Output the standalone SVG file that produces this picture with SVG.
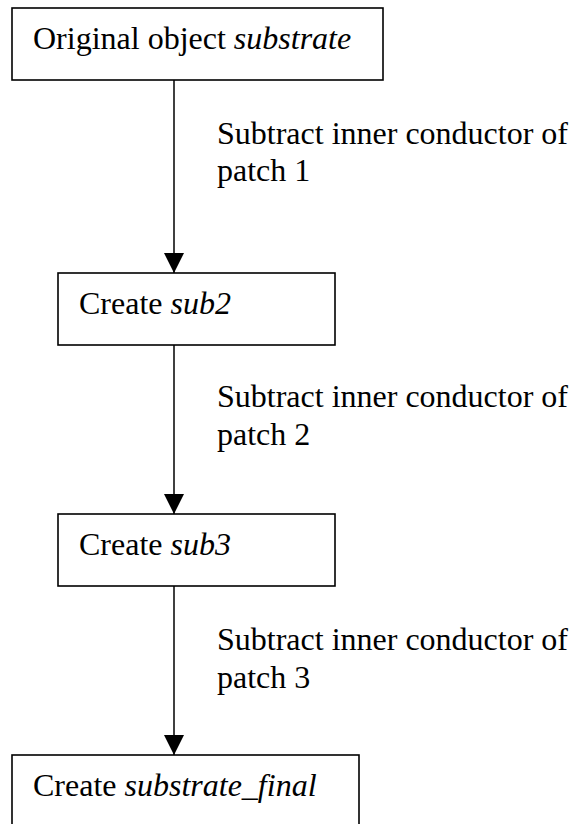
<svg xmlns="http://www.w3.org/2000/svg" width="572" height="824" viewBox="0 0 572 824">
<style>
.box{fill:#fff;stroke:#000;stroke-width:1.6}
.t{font-family:'Liberation Serif','Times New Roman',Times,serif;font-size:32px;fill:#000}
.i{font-style:italic}
.c{stroke:#000;stroke-width:1.5;fill:none}
</style>
<defs>
<marker id="ah" markerUnits="userSpaceOnUse" markerWidth="20" markerHeight="20" viewBox="0 0 20 20" refX="20" refY="10" orient="auto">
<path d="M0,0 L20,10 L0,20 Z" fill="#000"/>
</marker>
</defs>
<rect width="572" height="824" fill="#fff"/>
<g id="connectors">
<line class="c" x1="174" y1="80" x2="174" y2="273" marker-end="url(#ah)"/>
<line class="c" x1="174" y1="345" x2="174" y2="514" marker-end="url(#ah)"/>
<line class="c" x1="174" y1="586" x2="174" y2="755" marker-end="url(#ah)"/>
<g font-family="Liberation Serif, serif">
<text class="t" x="217" y="144">Subtract inner conductor of</text>
<text class="t" x="217" y="181">patch 1</text>
<text class="t" x="217" y="407">Subtract inner conductor of</text>
<text class="t" x="217" y="445">patch 2</text>
<text class="t" x="217" y="650">Subtract inner conductor of</text>
<text class="t" x="217" y="688">patch 3</text>
</g>
</g>
<g id="n1">
<rect class="box" x="12" y="8" width="371" height="72"/>
<text class="t" x="33" y="49">Original object <tspan class="i">substrate</tspan></text>
</g>
<g id="n2">
<rect class="box" x="58" y="273" width="277" height="72"/>
<text class="t" x="79" y="314">Create <tspan class="i">sub2</tspan></text>
</g>
<g id="n3">
<rect class="box" x="58" y="514" width="277" height="72"/>
<text class="t" x="79" y="555">Create <tspan class="i">sub3</tspan></text>
</g>
<g id="n4">
<rect class="box" x="12" y="755" width="347" height="80"/>
<text class="t" x="33" y="796">Create <tspan class="i">substrate_final</tspan></text>
</g>
</svg>
